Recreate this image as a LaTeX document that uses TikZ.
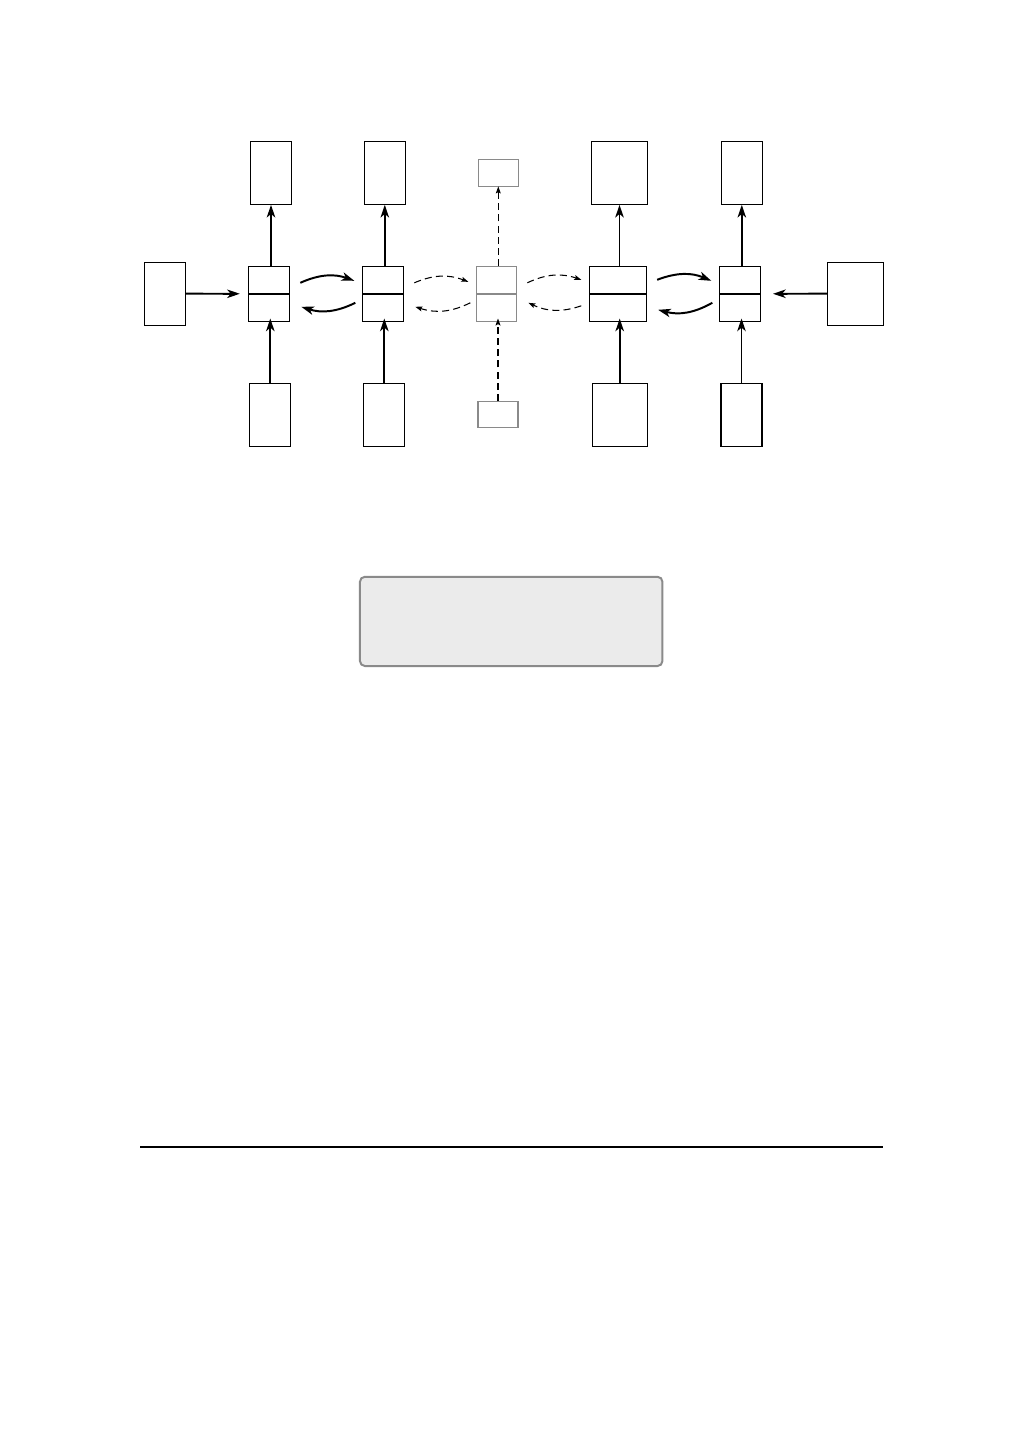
\documentclass[tikz,border=0pt]{standalone}
\usetikzlibrary{calc,arrows.meta}
\definecolor{boxgray}{HTML}{8A8A8A}
\definecolor{panelfill}{HTML}{EBEBEB}
\begin{document}
\begin{tikzpicture}[x=0.025cm,y=0.025cm,
    box/.style={draw,line width=0.8pt,inner sep=0pt,outer sep=0pt,minimum width=1.025cm,minimum height=1.575cm},
    cell/.style={box,minimum height=1.375cm},
    ghost/.style={draw=boxgray,line width=0.8pt,inner sep=0pt,outer sep=0pt,minimum width=1cm},
    flow/.style={-{Stealth[length=9pt,width=6pt,inset=2.5pt]},line width=1.4pt},
    faint/.style={-{Stealth[length=5pt,width=3.5pt,inset=1pt]},line width=0.75pt,dash pattern=on 5pt off 3pt}]
  \useasboundingbox (0,0) rectangle (1009,-1441);
  % row of cells
  \node[cell] (c1) at (268.8,-293.8) {};
  \node[cell] (c2) at (382.8,-293.8) {};
  \node[ghost,minimum height=1.375cm] (c3) at (496.3,-293.8) {};
  \node[cell,minimum width=1.42cm] (c4) at (617.7,-293.8) {};
  \node[cell] (c5) at (739.8,-293.8) {};
  \draw[line width=1.2pt] (c1.west)--(c1.east);
  \draw[line width=1.2pt] (c2.west)--(c2.east);
  \draw[line width=1.2pt,boxgray] (c3.west)--(c3.east);
  \draw[line width=1.2pt] (c4.west)--(c4.east);
  \draw[line width=1.2pt] (c5.west)--(c5.east);
  % boxes above and below
  \node[box] (t1) at (271,-173.3) {};
  \node[box] (t2) at (384.8,-173.3) {};
  \node[ghost,minimum height=0.67cm] (t3) at (498.3,-173) {};
  \node[box,minimum width=1.41cm] (t4) at (619.5,-173.3) {};
  \node[box] (t5) at (741.8,-173.3) {};
  \node[box] (b1) at (270.3,-414.7) {};
  \node[box] (b2) at (384.3,-414.7) {};
  \node[ghost,minimum height=0.67cm] (b3) at (498,-414.5) {};
  \node[box,minimum width=1.37cm] (b4) at (619.7,-414.7) {};
  \node[box] (b5) at (741.5,-414.7) {};
  \node[box] (inL) at (164.8,-293.7) {};
  \node[box,minimum width=1.4cm] (inR) at (855.3,-293.7) {};
  % vertical arrows
  \draw[flow] (t1.south |- c1.north)--(t1.south);
  \draw[flow] (t2.south |- c2.north)--(t2.south);
  \draw[faint] (t3.south |- c3.north)--(t3.south);
  \draw[flow] (t4.south |- c4.north)--(t4.south);
  \draw[flow] (t5.south |- c5.north)--(t5.south);
  \draw[flow,shorten >=-2pt] (b1.north)--(b1.north |- c1.south);
  \draw[flow,shorten >=-2pt] (b2.north)--(b2.north |- c2.south);
  \draw[faint,shorten >=-2pt] (b3.north)--(b3.north |- c3.south);
  \draw[flow,shorten >=-2pt] (b4.north)--(b4.north |- c4.south);
  \draw[flow,shorten >=-2pt] (b5.north)--(b5.north |- c5.south);
  % side inputs
  \draw[flow,shorten >=6pt] (inL.east)--(c1.west);
  \draw[flow,shorten >=9pt] (inR.west)--(c5.east);
  % arcs between neighbours
  \draw[flow] ($(c1.east)+(11,11)$) to[bend left=22] ($(c2.west)+(-8,13)$);
  \draw[flow] ($(c2.west)+(-7,-9)$) to[bend left=22] ($(c1.east)+(12,-13)$);
  \draw[faint] ($(c2.east)+(11,11)$) to[bend left=22] ($(c3.west)+(-8,12)$);
  \draw[faint] ($(c3.west)+(-6,-9)$) to[bend left=22] ($(c2.east)+(12,-13)$);
  \draw[faint] ($(c3.east)+(11,11)$) to[bend left=22] ($(c4.west)+(-8,14)$);
  \draw[faint] ($(c4.west)+(-8,-12)$) to[bend left=22] ($(c3.east)+(12,-9)$);
  \draw[flow] ($(c4.east)+(11,14)$) to[bend left=22] ($(c5.west)+(-8,13)$);
  \draw[flow] ($(c5.west)+(-7,-9)$) to[bend left=22] ($(c4.east)+(12,-16)$);
  % panel and rule
  \node[draw=boxgray,fill=panelfill,line width=1.4pt,rounded corners=3.5pt,minimum width=7.56cm,minimum height=2.23cm,inner sep=0pt] (panel) at (511.2,-621.4) {};
  \draw[line width=1.3pt] (140,-1147.3)--(882.7,-1147.3);
\end{tikzpicture}
\end{document}
